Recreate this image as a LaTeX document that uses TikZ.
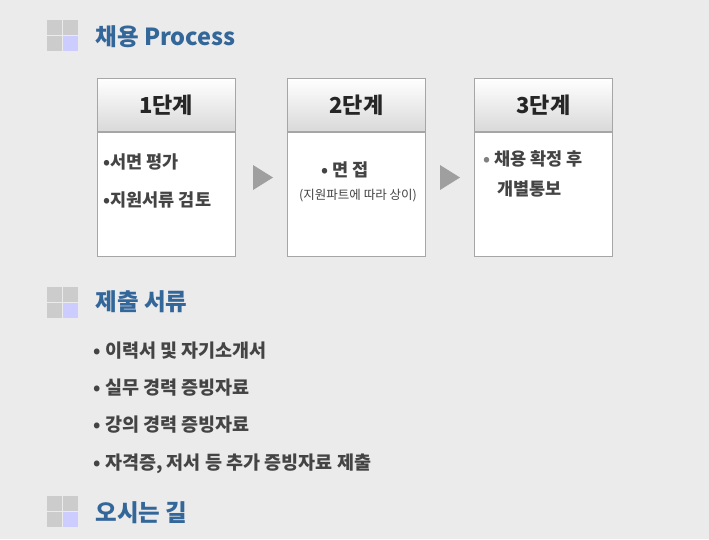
\documentclass[tikz,border=0pt]{standalone}
\usepackage{fontspec}
\setmainfont{Noto Sans CJK KR}
\usetikzlibrary{positioning}
\definecolor{pagebg}{HTML}{EBEBEB}
\definecolor{titleblue}{HTML}{336699}
\definecolor{iconlav}{HTML}{CCCCFF}
\definecolor{icongray}{HTML}{CCCCCC}
\definecolor{txtgray}{HTML}{444444}
\newcommand{\marker}[2]{%
  \fill[icongray] (#1,#2) rectangle ++(15,15);
  \fill[icongray] (#1+16,#2) rectangle ++(15,15);
  \fill[icongray] (#1,#2+16) rectangle ++(15,15);
  \fill[iconlav] (#1+16,#2+16) rectangle ++(15,15);}
\begin{document}
\begin{tikzpicture}[x=1pt,y=-1pt,
    heading/.style={anchor=west,font=\fontsize{23.5}{26}\selectfont\bfseries,text=titleblue},
    stagehead/.style={draw=gray!70,top color=white,bottom color=gray!30,minimum width=138,minimum height=53,font=\fontsize{22}{26}\selectfont\bfseries,text=black!85},
    stagebody/.style={draw=gray!70,fill=white,minimum width=138,minimum height=124},
    item/.style={anchor=west,font=\fontsize{17.5}{20}\selectfont\bfseries,text=txtgray},
    docitem/.style={item,font=\fontsize{18.5}{21}\selectfont\bfseries},
    nextarrow/.style={fill=gray!75}]
  \fill[pagebg] (0,0) rectangle (709,539);
  % heading 1
  \marker{47}{20}
  \node[heading] (proc) at (92,37) {채용 Process};
  % stages
  \node[stagehead] (h1) at (166,105) {1단계};
  \node[stagebody,below=0 of h1] (b1) {};
  \node[stagehead] (h2) at (356.5,105) {2단계};
  \node[stagebody,below=0 of h2] (b2) {};
  \node[stagehead] (h3) at (543.5,105) {3단계};
  \node[stagebody,below=0 of h3] (b3) {};
  \node[item] (b1a) at (100,162) {•서면 평가};
  \node[item] (b1b) at (100,200) {•지원서류 검토};
  \node[item,anchor=center] (b2a) at (345,170) {•\ 면\ 접};
  \node[anchor=center,font=\fontsize{12.5}{14}\selectfont,text=txtgray] (b2b) at (358,196) {(지원파트에 따라 상이)};
  \node[item] (b3a) at (480,159) {\textcolor{gray}{•} 채용 확정 후};
  \node[item] (b3b) at (494,189) {개별통보};
  \fill[nextarrow] (253,165) -- (273,177.5) -- (253,190) -- cycle;
  \fill[nextarrow] (440,165) -- (460,177.5) -- (440,190) -- cycle;
  % heading 2
  \marker{47}{287}
  \node[heading] (docs) at (92,302) {제출 서류};
  \node[docitem] (d1) at (90,351) {• 이력서 및 자기소개서};
  \node[docitem] (d2) at (90,388) {• 실무 경력 증빙자료};
  \node[docitem] (d3) at (90,425) {• 강의 경력 증빙자료};
  \node[docitem] (d4) at (90,464) {• 자격증, 저서 등 추가 증빙자료 제출};
  % heading 3
  \marker{47}{496}
  \node[heading] (way) at (92,513) {오시는 길};
\end{tikzpicture}
\end{document}
